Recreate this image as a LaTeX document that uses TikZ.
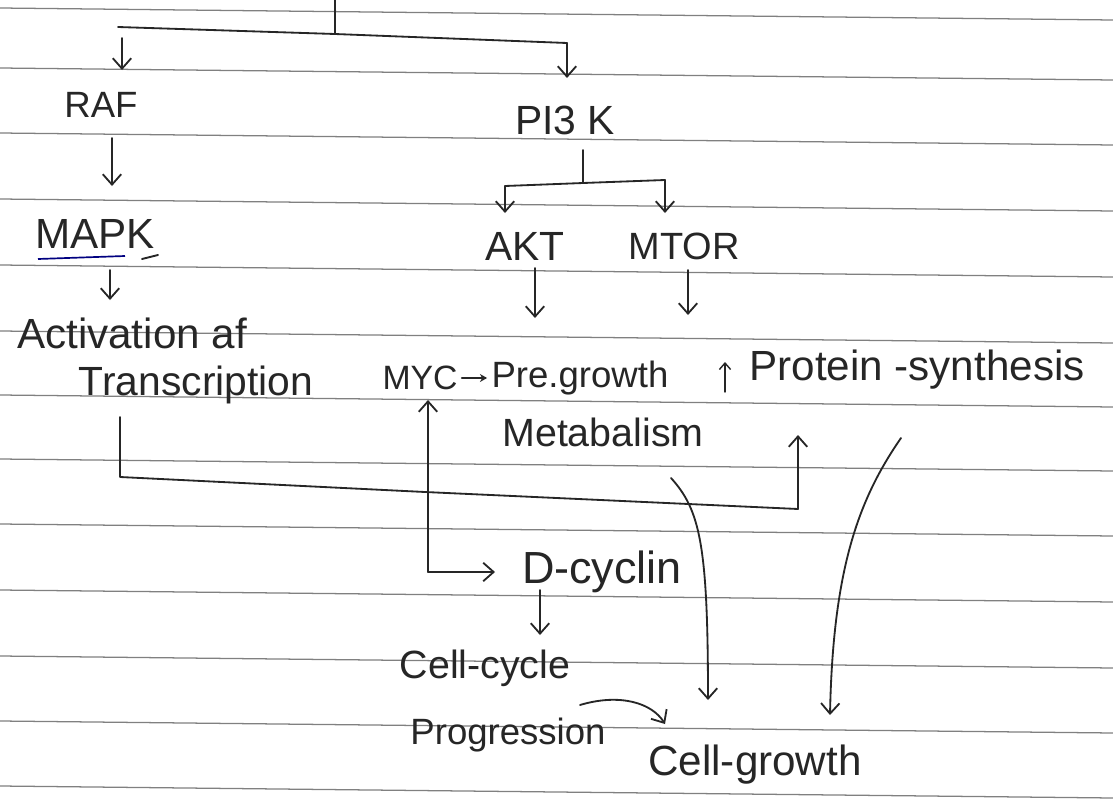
\documentclass[tikz,border=0pt]{standalone}
\usepackage{fontspec}
\setmainfont{Liberation Sans}
\usetikzlibrary{arrows.meta}
\newcommand\hwfs[1]{\fontsize{#1}{#1}\selectfont}
\tikzset{
  ink/.style={draw=black!85, line width=1.3pt, line cap=round, line join=round},
  arr/.style={ink, -{Straight Barb[length=2.6mm,width=4.6mm]}},
  lbl/.style={inner sep=0pt, text=black!85},
  rule/.style={draw=black!50, line width=0.9pt}
}
\begin{document}
\begin{tikzpicture}[x=0.025cm,y=-0.025cm]
\useasboundingbox (0,0) rectangle (1113,809);
\fill[white] (0,0) rectangle (1113,809);
% ruled paper lines
\foreach \yy in {8,68,133,199,265,331,395,459,524,590,656,721,786}
  \draw[rule] (0,\yy) -- (1113,\yy+12);

% nodes
\node[lbl,font=\hwfs{26}] (raf) at (101,105) {RAF};
\node[lbl,font=\hwfs{29}] (pi3k) at (565,120) {PI3 K};
\node[lbl,font=\hwfs{30}] (mapk) at (95,234) {MAPK};
\node[lbl,font=\hwfs{29}] (akt) at (525,246) {AKT};
\node[lbl,font=\hwfs{27}] (mtor) at (684,246) {MTOR};
\node[lbl,font=\hwfs{30}] (act) at (132,333) {Activation af};
\node[lbl,font=\hwfs{29}] (trans) at (196,385) {Transcription};
\node[lbl,font=\hwfs{24}] (myc) at (420,378) {MYC};
\node[lbl,font=\hwfs{26}] (pre) at (580,378) {Pre.growth};
\node[lbl,font=\hwfs{28}] (meta) at (603,432) {Metabalism};
\node[lbl,font=\hwfs{30}] (prot) at (917,370) {Protein -synthesis};
\node[lbl,font=\hwfs{32}] (dcyc) at (602,572) {D-cyclin};
\node[lbl,font=\hwfs{28}] (cc) at (485,668) {Cell-cycle};
\node[lbl,font=\hwfs{26}] (prog) at (508,735) {Progression};
\node[lbl,font=\hwfs{30}] (cg) at (755,765) {Cell-growth};

% MAPK underline
\draw[draw=blue!50!black, line width=1.2pt] (38,259) -- (125,256);
\draw[ink] (142,259) -- (158,255);

% top split
\coordinate (top) at (335,0);
\coordinate (split) at (335,34);
\coordinate (lbar) at (118,27);
\coordinate (rbar) at (567,43);
\draw[ink] (top) -- (split);
\draw[ink] (lbar) -- (split) -- (rbar);
\draw[arr] (122,38) -- (122,70);
\draw[arr] (rbar) -- (567,78);

% RAF -> MAPK -> Activation
\draw[arr] (112,138) -- (112,186);
\draw[arr] (110,270) -- (110,300);

% PI3K branch
\coordinate (pb) at (583,183);
\draw[ink] (583,150) -- (pb);
\draw[ink] (505,186) -- (pb) -- (665,180);
\draw[arr] (505,186) -- (505,213);
\draw[arr] (665,180) -- (665,213);

% AKT / MTOR arrows
\draw[arr] (535,268) -- (535,318);
\draw[arr] (688,270) -- (688,315);

% MYC -> Pre-growth
\draw[ink, -{Stealth[length=1.8mm,width=2mm]}] (myc.east) ++(4,0) -- ([xshift=-3pt]pre.west);
% increase arrow before protein synthesis
\draw[ink, line width=1pt, -{Straight Barb[length=1.6mm,width=2.8mm]}] (725,392) -- (725,362);

% Transcription feedback to protein synthesis
\coordinate (tr1) at (120,417);
\coordinate (tr2) at (120,477);
\coordinate (tr3) at (425,492);
\coordinate (tr4) at (798,509);
\draw[ink] (tr1) -- (tr2) -- (tr3) -- (tr4);
\draw[arr] (tr4) -- (798,435);

% MYC / D-cyclin
\coordinate (mc) at (428,572);
\draw[arr] (mc) -- (428,400);
\draw[arr] (mc) -- (495,572);
\draw[arr] (540,590) -- (540,635);

% Cell-cycle progression -> Cell-growth
\draw[arr] (580,705) .. controls (620,693) and (652,703) .. (665,724);

% Metabolism -> Cell-growth
\draw[arr] (671,478) .. controls (700,510) and (708,545) .. (708,700);
% Protein synthesis -> Cell-growth
\draw[arr] (901,438) .. controls (858,500) and (833,570) .. (830,715);
\end{tikzpicture}
\end{document}
